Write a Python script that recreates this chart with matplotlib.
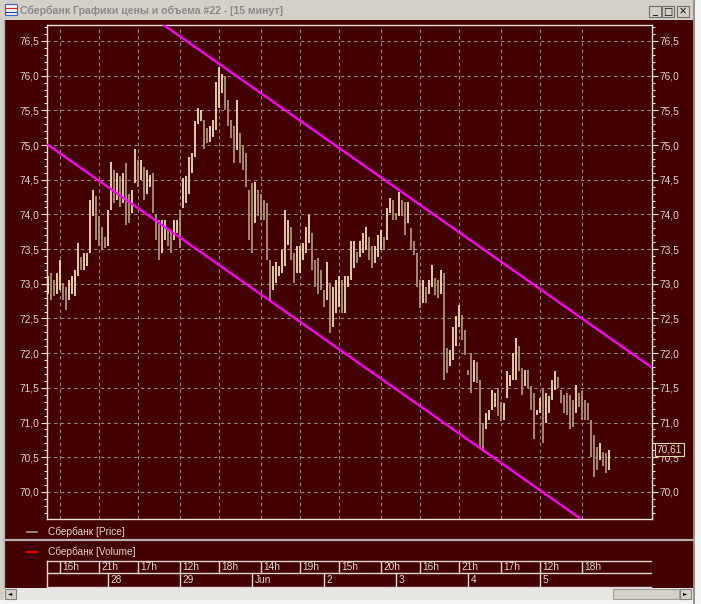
import matplotlib
matplotlib.use("Agg")
import matplotlib.pyplot as plt
import numpy as np
from matplotlib.patches import Rectangle
from matplotlib.lines import Line2D
from matplotlib.ticker import MultipleLocator, FuncFormatter
import matplotlib.transforms as mtransforms

# --- data: 15-min bars, high / low ---
highs = [
    73.11, 73.15, 73.06, 73.15, 73.34, 73.01, 72.96, 73.06, 73.11, 73.20,
    73.59, 73.39, 73.44, 73.44, 74.21, 74.35, 74.26, 73.97, 73.82, 73.68,
    74.06, 74.76, 74.64, 74.59, 74.55, 74.59, 74.74, 74.30, 74.35, 74.95,
    74.78, 74.78, 74.69, 74.64, 74.57, 74.59, 73.99, 73.92, 73.92, 73.92,
    73.78, 73.78, 73.92, 73.92, 74.06, 74.52, 74.55, 74.83, 74.88, 75.34,
    75.53, 75.51, 75.36, 75.24, 75.27, 75.36, 75.91, 76.13, 76.03, 75.99,
    75.65, 75.36, 75.27, 75.65, 75.17, 74.98, 74.88, 74.35, 74.45, 74.47,
    74.35, 74.30, 74.21, 74.16, 73.34, 73.25, 73.32, 73.25, 73.49, 74.06,
    73.92, 73.82, 73.44, 73.54, 73.54, 73.59, 73.82, 73.99, 73.73, 73.34,
    73.37, 73.20, 72.91, 73.32, 73.01, 72.96, 73.06, 73.11, 73.06, 73.11,
    73.11, 73.61, 73.61, 73.46, 73.61, 73.73, 73.82, 73.68, 73.54, 73.54,
    73.71, 73.78, 73.68, 74.09, 74.23, 74.21, 74.02, 74.33, 74.21, 74.18,
    74.18, 73.80, 73.61, 73.44, 73.06, 73.06, 72.96, 73.06, 73.27, 73.08,
    73.06, 73.20, 73.15, 72.07, 72.05, 72.38, 72.53, 72.70, 72.55, 72.34,
    71.76, 72.00, 71.90, 71.88, 71.62, 70.99, 71.14, 71.18, 71.47, 71.42,
    71.50, 71.30, 71.28, 71.74, 71.69, 72.00, 72.22, 72.10, 71.78, 71.76,
    71.76, 71.52, 71.42, 71.18, 71.35, 71.50, 71.42, 71.38, 71.62, 71.74,
    71.66, 71.47, 71.40, 71.42, 71.40, 71.33, 71.54, 71.42, 71.45, 71.33,
    71.28, 71.04, 70.82, 70.65, 70.70, 70.58, 70.56, 70.61,
]
lows = [
    72.86, 72.77, 72.82, 72.86, 72.91, 72.77, 72.62, 72.77, 72.86, 72.82,
    73.11, 73.20, 73.20, 73.25, 73.44, 73.97, 73.63, 73.54, 73.49, 73.51,
    73.54, 74.06, 74.16, 74.21, 74.11, 74.16, 73.85, 73.87, 74.02, 74.45,
    74.40, 74.50, 74.21, 74.30, 74.40, 74.02, 73.63, 73.34, 73.44, 73.63,
    73.54, 73.44, 73.63, 73.73, 73.51, 74.09, 74.16, 74.30, 74.59, 74.83,
    75.31, 75.34, 74.95, 75.03, 75.05, 75.12, 75.22, 75.53, 75.75, 75.51,
    75.27, 75.10, 74.74, 74.93, 74.74, 74.64, 74.40, 73.63, 73.44, 73.87,
    73.97, 73.92, 73.92, 73.34, 72.77, 72.91, 73.01, 73.11, 73.15, 73.25,
    73.56, 73.34, 73.01, 73.15, 73.15, 73.34, 73.44, 73.59, 73.20, 72.96,
    72.86, 72.91, 72.67, 72.77, 72.29, 72.38, 72.58, 72.67, 72.58, 72.58,
    72.96, 73.06, 73.23, 73.30, 73.39, 73.44, 73.49, 73.34, 73.23, 73.30,
    73.39, 73.49, 73.49, 73.63, 74.02, 73.92, 73.92, 73.97, 73.97, 73.71,
    73.87, 73.49, 73.42, 72.96, 72.65, 72.72, 72.72, 72.86, 72.96, 72.84,
    72.79, 72.86, 71.62, 71.71, 71.81, 71.90, 72.10, 72.38, 72.19, 71.98,
    71.69, 71.42, 71.59, 71.57, 70.65, 70.61, 70.90, 71.04, 71.18, 71.23,
    71.09, 71.02, 71.04, 71.35, 71.52, 71.62, 71.62, 71.74, 71.40, 71.52,
    71.50, 71.18, 70.77, 71.11, 71.14, 70.70, 70.99, 71.14, 71.33, 71.47,
    71.50, 71.28, 71.14, 71.11, 70.90, 70.94, 71.14, 71.23, 71.04, 71.04,
    71.04, 70.51, 70.22, 70.32, 70.46, 70.37, 70.27, 70.32,
]
last_price = 70.61

# trend channel (two parallel lines), bar index -> price
upper_x = [0, 202]
upper_y = [77.90, 71.77]
lower_x = [0, 202]
lower_y = [75.00, 68.87]

# time axis
time_pos = [4, 17, 30, 44, 57, 71, 84, 97, 111, 124, 137, 151, 164, 178]
time_labels = ['16h', '21h', '17h', '12h', '18h', '14h', '19h', '15h',
               '20h', '16h', '21h', '17h', '12h', '18h']
date_pos = [20, 44, 68, 92, 116, 140, 164]
date_labels = ['28', '29', 'Jun', '2', '3', '4', '5']

title = 'Сбербанк Графики цены и объема #22 - [15 минут]'

# --- colours ---
BG = '#420000'
TXT = '#e2d4d0'
FRAME = '#eee2d8'
GRID = '#9a8484'
UP = '#f2e6b6'
DOWN = '#b09a7c'
CHAN = '#ff00ff'

W, H = 701, 604
fig = plt.figure(figsize=(W / 100, H / 100), dpi=100)
fig.patch.set_facecolor('#d4d0c8')
plt.rcParams['font.family'] = ['Liberation Sans', 'DejaVu Sans']


def box(x, y, w, h, z=-5, **kw):
    # pixel rectangle, y from top
    fig.add_artist(Rectangle((x / W, 1 - (y + h) / H), w / W, h / H,
                             transform=fig.transFigure, zorder=z, **kw))


def hline(x0, x1, y, **kw):
    fig.add_artist(Line2D([x0 / W, x1 / W], [1 - y / H, 1 - y / H],
                          transform=fig.transFigure, **kw))


def vline(x, y0, y1, **kw):
    fig.add_artist(Line2D([x / W, x / W], [1 - y0 / H, 1 - y1 / H],
                          transform=fig.transFigure, **kw))


# window chrome
box(0, 0, 695, 20, facecolor='#d4d0c8', edgecolor='none')
box(4, 20, 689, 568, facecolor=BG, edgecolor='none')
box(693, 0, 8, 604, facecolor='#f2f2f2', edgecolor='none')
vline(694, 0, 604, color='#808080', lw=1.2)
box(0, 600, 701, 4, facecolor='#f4f4f4', edgecolor='none')
box(4, 588, 689, 12, facecolor='#e8e6e2', edgecolor='none')
box(5, 589, 11, 10, z=2, facecolor='#d4d0c8', edgecolor='#808080', lw=0.8)
box(680, 589, 11, 10, z=2, facecolor='#d4d0c8', edgecolor='#808080', lw=0.8)
box(613, 589, 66, 10, z=2, facecolor='#d4d0c8', edgecolor='#a0a0a0', lw=0.8)
fig.text(10.5 / W, 1 - 594 / H, '◄', fontsize=4, ha='center', va='center',
         color='black', family='DejaVu Sans')
fig.text(685.5 / W, 1 - 594 / H, '►', fontsize=4, ha='center', va='center',
         color='black', family='DejaVu Sans')
vline(3.5, 20, 588, color='#b0aca8', lw=1)

# title bar
box(5, 4, 12, 11, z=2, facecolor='#f0f0f0', edgecolor='#4060c0', lw=0.8)
hline(6, 16, 8, color='#d02020', lw=0.8)
hline(6, 16, 12, color='#2040c0', lw=0.8)
fig.text(20 / W, 1 - 11 / H, title, fontsize=7.6, fontweight='bold',
         color='#8a8a8a', va='center', ha='left')
for bx, glyph in [(649, '_'), (662, '□'), (677, '×')]:
    box(bx, 6, 12, 11, z=2, facecolor='#d4d0c8', edgecolor='#707070', lw=0.8)
    fig.text((bx + 6) / W, 1 - 11.5 / H, glyph, fontsize=7, ha='center',
             va='center', color='black', family='DejaVu Sans')

# --- main price axes ---
ax = fig.add_axes([47 / W, 1 - 519 / H, 605 / W, 494 / H])
ax.set_facecolor(BG)
idx = np.arange(len(highs))
hi = np.array(highs)
lo = np.array(lows)
mid = (hi + lo) / 2
cols = [UP if i == 0 or mid[i] >= mid[i - 1] else DOWN for i in idx]
ax.vlines(idx, lo, hi, colors=cols, lw=1.25, zorder=3)

ax.plot(upper_x, upper_y, color=CHAN, lw=1.6, zorder=4)
ax.plot(lower_x, lower_y, color=CHAN, lw=1.6, zorder=4)

ax.set_xlim(-0.33, 201.33)
ax.set_ylim(69.61, 76.73)

ax.yaxis.set_major_locator(MultipleLocator(0.5))
ax.yaxis.set_minor_locator(MultipleLocator(0.1))
ax.yaxis.set_major_formatter(FuncFormatter(lambda v, p: f'{v:.1f}'.replace('.', ',')))
ax.tick_params(axis='y', which='both', left=True, right=True, labelleft=True,
               labelright=True, colors=FRAME, labelcolor=TXT, labelsize=7.3,
               direction='out', pad=1)
ax.tick_params(axis='y', which='major', length=4.5, width=0.8)
ax.tick_params(axis='y', which='minor', length=2.2, width=0.8)
ax.set_xticks(time_pos)
ax.tick_params(axis='x', length=0, labelbottom=False)
ax.grid(True, color=GRID, lw=0.8, linestyle=(0, (3, 3)))
ax.set_axisbelow(True)
for s in ax.spines.values():
    s.set_color(FRAME)
    s.set_linewidth(1)

# last price marker on right axis
trans = mtransforms.blended_transform_factory(ax.transAxes, ax.transData)
ax.text(1.008, last_price, f'{last_price:.2f}'.replace('.', ','), transform=trans,
        ha='left', va='center', fontsize=7.3, color='#f0e2b4', zorder=10,
        bbox=dict(boxstyle='square,pad=0.15', facecolor=BG, edgecolor='#e8d8a8', lw=0.8))

# --- legend lines ---
hline(27, 37, 532, color=DOWN, lw=1.2)
fig.text(48 / W, 1 - 532 / H, 'Сбербанк [Price]', fontsize=7.3, color=TXT,
         va='center', ha='left')
hline(4, 693, 540, color='#b8b0b0', lw=1.6)
hline(27, 37, 552, color='#ff0000', lw=1.2)
fig.text(48 / W, 1 - 552 / H, 'Сбербанк [Volume]', fontsize=7.3, color=TXT,
         va='center', ha='left')

# --- time / date table ---
at = fig.add_axes([47 / W, 1 - 587 / H, 605 / W, 26 / H])
at.set_xlim(ax.get_xlim())
at.set_ylim(0, 26)
at.axis('off')
right_end = 201.0
LC = '#e4d8d4'
for yy in (26, 14, 0.3):
    at.plot([-0.33, right_end], [yy, yy], color=LC, lw=1, clip_on=False)
at.plot([-0.2, -0.2], [0, 26], color=LC, lw=1, clip_on=False)
for p, lab in zip(time_pos, time_labels):
    at.plot([p, p], [14, 26], color=LC, lw=1)
    at.text(p + 0.8, 20, lab, fontsize=7.3, color=TXT, va='center', ha='left')
for p, lab in zip(date_pos, date_labels):
    at.plot([p, p], [0, 14], color=LC, lw=1)
    at.text(p + 0.8, 7, lab, fontsize=7.3, color=TXT, va='center', ha='left')

fig.savefig('out.png', dpi=100, facecolor=fig.get_facecolor())
